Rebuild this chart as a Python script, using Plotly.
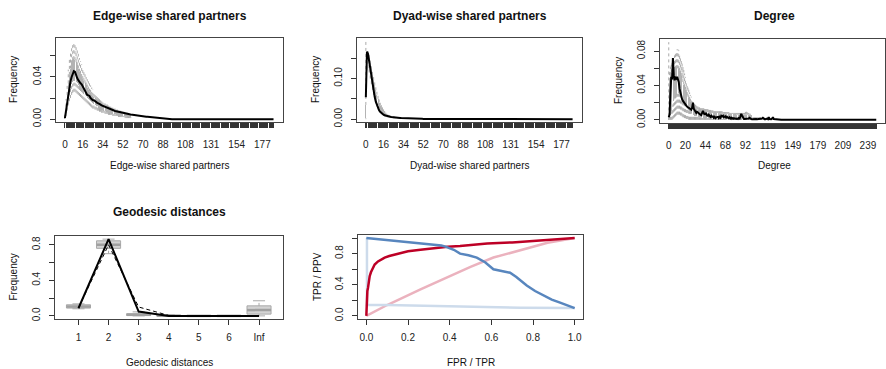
import plotly.graph_objects as go

W, H = 886, 369
FONT = "Liberation Sans, Arial, sans-serif"

# ---------------- data ----------------
# Edge-wise shared partners (categories 0..187)
esp_cats = list(range(188))
esp_labels = [0, 16, 34, 52, 70, 88, 108, 131, 154, 177]
esp_obs_head = [
    0.001, 0.008, 0.017, 0.026, 0.031, 0.036, 0.040, 0.044, 0.0455, 0.045,
    0.041, 0.039, 0.037, 0.035, 0.034, 0.033, 0.031, 0.028, 0.026, 0.024,
    0.023, 0.0225, 0.022, 0.020, 0.019, 0.018, 0.018, 0.017, 0.016, 0.0155,
    0.015, 0.014, 0.0138, 0.013, 0.0125, 0.012, 0.0115, 0.011, 0.0105, 0.010,
    0.0096, 0.0092, 0.0088, 0.0085, 0.0082, 0.0078, 0.0075, 0.0072, 0.0069, 0.0066,
    0.0063, 0.006, 0.0058, 0.0056, 0.0054, 0.0052, 0.005, 0.0048, 0.0046, 0.0044,
    0.0042, 0.004, 0.0038, 0.0036, 0.0035, 0.0033, 0.0032, 0.003, 0.0029, 0.0028,
    0.0026, 0.0025, 0.0024, 0.0023, 0.0022, 0.0021, 0.002, 0.0019, 0.0018, 0.0017,
    0.0016, 0.0015, 0.0014, 0.0013, 0.0012, 0.0011, 0.001, 0.0009, 0.0008, 0.0007,
]
esp_lo_head = [
    0.000, 0.003, 0.008, 0.013, 0.017, 0.020, 0.023, 0.025, 0.026, 0.026,
    0.025, 0.024, 0.023, 0.022, 0.021, 0.020, 0.019, 0.018, 0.017, 0.016,
    0.015, 0.014, 0.013, 0.012, 0.011, 0.010, 0.010, 0.009, 0.009, 0.008,
    0.008, 0.007, 0.007, 0.006, 0.006, 0.006, 0.005, 0.005, 0.005, 0.004,
    0.004, 0.004, 0.004, 0.003, 0.003, 0.003, 0.003, 0.003, 0.002, 0.002,
    0.002, 0.002, 0.002, 0.002, 0.001, 0.001, 0.001, 0.001, 0.001, 0.001,
]
esp_q1_head = [
    0.000, 0.006, 0.013, 0.020, 0.026, 0.030, 0.033, 0.035, 0.036, 0.036,
    0.035, 0.034, 0.032, 0.030, 0.029, 0.027, 0.026, 0.024, 0.023, 0.022,
    0.020, 0.019, 0.018, 0.017, 0.016, 0.015, 0.014, 0.013, 0.012, 0.012,
    0.011, 0.010, 0.010, 0.009, 0.009, 0.008, 0.008, 0.007, 0.007, 0.006,
    0.006, 0.006, 0.005, 0.005, 0.005, 0.005, 0.004, 0.004, 0.004, 0.004,
    0.003, 0.003, 0.003, 0.003, 0.003, 0.003, 0.002, 0.002, 0.002, 0.002,
]
esp_q3_head = [
    0.002, 0.012, 0.023, 0.034, 0.042, 0.048, 0.053, 0.056, 0.057, 0.056,
    0.054, 0.051, 0.048, 0.045, 0.043, 0.040, 0.038, 0.036, 0.034, 0.032,
    0.030, 0.028, 0.026, 0.025, 0.023, 0.022, 0.021, 0.020, 0.019, 0.018,
    0.017, 0.016, 0.015, 0.014, 0.013, 0.012, 0.012, 0.011, 0.011, 0.010,
    0.010, 0.009, 0.009, 0.008, 0.008, 0.008, 0.007, 0.007, 0.007, 0.006,
    0.006, 0.006, 0.005, 0.005, 0.005, 0.005, 0.004, 0.004, 0.004, 0.004,
]
esp_hi_head = [
    0.004, 0.019, 0.034, 0.047, 0.057, 0.065, 0.070, 0.073, 0.074, 0.073,
    0.070, 0.066, 0.062, 0.058, 0.055, 0.052, 0.049, 0.046, 0.043, 0.040,
    0.038, 0.036, 0.034, 0.032, 0.030, 0.028, 0.026, 0.025, 0.024, 0.022,
    0.021, 0.020, 0.019, 0.018, 0.017, 0.016, 0.015, 0.014, 0.014, 0.013,
    0.012, 0.012, 0.011, 0.011, 0.010, 0.010, 0.009, 0.009, 0.008, 0.008,
    0.008, 0.007, 0.007, 0.007, 0.006, 0.006, 0.006, 0.005, 0.005, 0.005,
]

# Dyad-wise shared partners (categories 0..187)
dsp_cats = list(range(188))
dsp_labels = [0, 16, 34, 52, 70, 88, 108, 131, 154, 177]
dsp_obs_head = [
    0.054, 0.166, 0.160, 0.141, 0.121, 0.104, 0.084, 0.068, 0.055, 0.043,
    0.035, 0.028, 0.022, 0.018, 0.015, 0.013, 0.011, 0.0095, 0.0085, 0.0078,
    0.007, 0.0065, 0.006, 0.0055, 0.005, 0.0047, 0.0044, 0.0041, 0.0038, 0.0035,
    0.0033, 0.003, 0.0028, 0.0026, 0.0024, 0.0022, 0.002, 0.0019, 0.0018, 0.0017,
    0.0016, 0.0015, 0.0014, 0.0013, 0.0012, 0.0011, 0.001, 0.001, 0.0009, 0.0009,
    0.0008, 0.0008, 0.0007, 0.0007, 0.0006, 0.0006, 0.0005, 0.0005, 0.0004, 0.0004,
]
dsp_lo_head = [
    0.000, 0.120, 0.125, 0.115, 0.100, 0.086, 0.072, 0.060, 0.049, 0.039,
    0.031, 0.024, 0.019, 0.015, 0.012, 0.010, 0.008, 0.007, 0.006, 0.005,
    0.004, 0.004, 0.003, 0.003, 0.003, 0.002, 0.002, 0.002, 0.002, 0.001,
]
dsp_q1_head = [
    0.002, 0.140, 0.142, 0.132, 0.117, 0.103, 0.089, 0.076, 0.064, 0.053,
    0.043, 0.035, 0.028, 0.022, 0.018, 0.014, 0.012, 0.010, 0.008, 0.007,
    0.006, 0.005, 0.005, 0.004, 0.004, 0.003, 0.003, 0.003, 0.002, 0.002,
]
dsp_q3_head = [
    0.035, 0.160, 0.160, 0.150, 0.137, 0.123, 0.109, 0.096, 0.083, 0.071,
    0.060, 0.050, 0.041, 0.033, 0.027, 0.022, 0.018, 0.015, 0.012, 0.010,
    0.009, 0.008, 0.007, 0.0065, 0.006, 0.0055, 0.005, 0.0045, 0.004, 0.0035,
]
dsp_hi_head = [
    0.192, 0.175, 0.172, 0.163, 0.150, 0.137, 0.123, 0.110, 0.097, 0.085,
    0.073, 0.062, 0.052, 0.043, 0.035, 0.029, 0.024, 0.020, 0.016, 0.013,
    0.011, 0.010, 0.009, 0.008, 0.007, 0.0065, 0.006, 0.0055, 0.005, 0.0045,
]

# Degree (categories 0..249)
deg_cats = list(range(250))
deg_labels = [0, 20, 44, 68, 92, 119, 149, 179, 209, 239]
deg_obs_head = [
    0.003, 0.006, 0.032, 0.050, 0.047, 0.072, 0.052, 0.046, 0.049, 0.048,
    0.050, 0.046, 0.044, 0.036, 0.031, 0.026, 0.024, 0.022, 0.021, 0.020,
    0.018, 0.0165, 0.015, 0.0145, 0.014, 0.013, 0.012, 0.0118, 0.014, 0.020,
    0.013, 0.011, 0.009, 0.008, 0.0095, 0.0086, 0.007, 0.0065, 0.006, 0.0055,
    0.0075, 0.0105, 0.008, 0.006, 0.0075, 0.0075, 0.005, 0.0047, 0.006, 0.004,
    0.0035, 0.0047, 0.003, 0.0047, 0.0025, 0.0035, 0.002, 0.0029, 0.0035, 0.0035,
    0.002, 0.0035, 0.0025, 0.0047, 0.004, 0.0049, 0.003, 0.0035, 0.004, 0.002,
    0.0035, 0.0025, 0.002, 0.003, 0.0015, 0.0025, 0.0012, 0.002, 0.0012, 0.0018,
    0.0012, 0.001, 0.0015, 0.001, 0.002, 0.0015, 0.004, 0.007, 0.005, 0.002,
    0.0012, 0.001, 0.001, 0.0015, 0.001, 0.001, 0.0015, 0.0024, 0.001, 0.001,
    0.0008, 0.001, 0.0008, 0.001, 0.0008, 0.001, 0.0008, 0.0008, 0.001, 0.0008,
    0.0008, 0.001, 0.0015, 0.0024, 0.001, 0.0008, 0.0008, 0.001, 0.0015, 0.0008,
    0.003, 0.001, 0.0008, 0.0008, 0.0015, 0.003, 0.001, 0.0008, 0.0005, 0.0005,
    0.0005,
]
deg_lo_head = [
    0.000, 0.000, 0.000, 0.000, 0.000, 0.001, 0.002, 0.003, 0.004, 0.005,
    0.006, 0.006, 0.006, 0.006, 0.005, 0.005, 0.004, 0.003, 0.003, 0.002,
    0.002, 0.001, 0.001, 0.001,
]
deg_q1_head = [
    0.000, 0.002, 0.006, 0.010, 0.014, 0.018, 0.022, 0.025, 0.027, 0.029,
    0.030, 0.031, 0.031, 0.030, 0.029, 0.027, 0.025, 0.023, 0.021, 0.019,
    0.017, 0.015, 0.013, 0.012, 0.011, 0.010, 0.009, 0.008, 0.007, 0.006,
    0.006, 0.005, 0.005, 0.004, 0.004, 0.004, 0.003, 0.003, 0.003, 0.003,
    0.002, 0.002, 0.002, 0.002, 0.002, 0.002, 0.002, 0.002, 0.002, 0.002,
    0.002, 0.001, 0.001, 0.001, 0.001, 0.001, 0.001, 0.001, 0.001, 0.001,
    0.001, 0.001, 0.001, 0.001, 0.001, 0.001, 0.001, 0.001, 0.001, 0.001,
]
deg_q3_head = [
    0.004, 0.045, 0.052, 0.055, 0.056, 0.056, 0.057, 0.058, 0.059, 0.060,
    0.060, 0.060, 0.059, 0.057, 0.054, 0.051, 0.048, 0.044, 0.041, 0.038,
    0.035, 0.032, 0.029, 0.027, 0.025, 0.023, 0.021, 0.019, 0.018, 0.017,
    0.016, 0.015, 0.014, 0.013, 0.012, 0.012, 0.011, 0.011, 0.010, 0.010,
    0.010, 0.010, 0.010, 0.009, 0.009, 0.009, 0.009, 0.009, 0.008, 0.008,
    0.008, 0.008, 0.008, 0.008, 0.008, 0.008, 0.008, 0.008, 0.008, 0.008,
    0.008, 0.007, 0.007, 0.007, 0.007, 0.007, 0.007, 0.007, 0.007, 0.007,
    0.007, 0.007, 0.007, 0.007, 0.007, 0.007, 0.007, 0.007, 0.007, 0.007,
    0.007, 0.006, 0.006, 0.006, 0.006, 0.006, 0.006, 0.006, 0.006, 0.006,
    0.006, 0.006, 0.006, 0.006, 0.006, 0.006, 0.006, 0.006, 0.006, 0.006,
    0.006, 0.002, 0.002, 0.002, 0.002, 0.002, 0.002, 0.002, 0.002, 0.002,
    0.002, 0.001, 0.001, 0.001, 0.001, 0.001, 0.001, 0.001, 0.001, 0.001,
    0.001,
]
deg_hi_head = [
    0.0904, 0.058, 0.062, 0.064, 0.066, 0.068, 0.071, 0.075, 0.078, 0.080,
    0.082, 0.082, 0.081, 0.078, 0.075, 0.071, 0.067, 0.062, 0.058, 0.054,
    0.050, 0.046, 0.042, 0.038, 0.035, 0.032, 0.029, 0.027, 0.025, 0.023,
    0.022, 0.021, 0.020, 0.019, 0.018, 0.017, 0.016, 0.016, 0.015, 0.015,
    0.015, 0.014, 0.014, 0.015, 0.014, 0.014, 0.013, 0.013, 0.012, 0.012,
    0.012, 0.011, 0.011, 0.011, 0.010, 0.010, 0.010, 0.010, 0.010, 0.010,
    0.010, 0.010, 0.010, 0.010, 0.010, 0.009, 0.009, 0.009, 0.009, 0.009,
    0.009, 0.009, 0.009, 0.008, 0.008, 0.008, 0.008, 0.008, 0.008, 0.008,
    0.008, 0.008, 0.008, 0.008, 0.008, 0.008, 0.008, 0.008, 0.008, 0.008,
    0.008, 0.008, 0.009, 0.010, 0.009, 0.008, 0.008, 0.007, 0.007, 0.006,
    0.006, 0.003, 0.003, 0.003, 0.003, 0.003, 0.003, 0.003, 0.003, 0.003,
    0.003, 0.002, 0.002, 0.002, 0.002, 0.002, 0.002, 0.002, 0.002, 0.002,
    0.002,
]

# Geodesic distances
geo_labels = ["1", "2", "3", "4", "5", "6", "Inf"]
geo_pos = [1, 2, 3, 4, 5, 6, 7]
geo_obs = [0.086, 0.864, 0.049, 0.0, 0.0, 0.0, 0.0]
geo_sim_line = [0.090, 0.800, 0.100, 0.005, 0.0, 0.0, 0.0]
geo_lo = [0.080, 0.700, 0.000, 0.000, 0.000, 0.000, 0.000]
geo_q1 = [0.088, 0.760, 0.004, 0.000, 0.000, 0.000, 0.020]
geo_med = [0.105, 0.800, 0.012, 0.002, 0.000, 0.000, 0.065]
geo_q3 = [0.125, 0.845, 0.025, 0.006, 0.001, 0.000, 0.113]
geo_hi = [0.135, 0.864, 0.045, 0.012, 0.003, 0.001, 0.170]

# ROC / PR curves
roc_fpr = [0, 0.001, 0.003, 0.005, 0.008, 0.012, 0.016, 0.022, 0.032, 0.04, 0.056,
           0.07, 0.088, 0.11, 0.15, 0.2, 0.26, 0.3, 0.39, 0.45, 0.58, 0.7, 0.79, 0.9, 1.0]
roc_tpr = [0, 0.1, 0.25, 0.32, 0.36, 0.44, 0.51, 0.56, 0.62, 0.66, 0.70,
           0.72, 0.75, 0.77, 0.80, 0.83, 0.85, 0.865, 0.89, 0.90, 0.93, 0.945, 0.96, 0.98, 1.0]
roc_rand_fpr = [0, 0.04, 0.10, 0.26, 0.40, 0.50, 0.61, 0.74, 0.87, 1.0]
roc_rand_tpr = [0, 0.06, 0.14, 0.34, 0.51, 0.63, 0.75, 0.85, 0.94, 1.0]
pr_tpr = [0, 0.10, 0.26, 0.36, 0.38, 0.42, 0.45, 0.49, 0.53, 0.57, 0.61, 0.65, 0.69,
          0.72, 0.77, 0.81, 0.85, 0.89, 0.93, 1.0]
pr_ppv = [1.0, 0.975, 0.93, 0.905, 0.89, 0.85, 0.80, 0.78, 0.75, 0.69, 0.60, 0.575, 0.555,
          0.50, 0.39, 0.32, 0.26, 0.21, 0.17, 0.10]
pr_rand_tpr = [0.003, 0.003, 0.10, 0.40, 0.74, 1.0]
pr_rand_ppv = [1.0, 0.14, 0.14, 0.12, 0.105, 0.10]


def pad(head, n):
    return head + [0.0] * (n - len(head))


# ---------------- figure ----------------
fig = go.Figure()

BOX_FILL = "#b3b3b3"
WHISK = "#aaaaaa"


def dense_panel(ax, cats, obs, lo, q1, q3, hi):
    n = len(cats)
    obs, lo, q1, q3, hi = [pad(a, n) for a in (obs, lo, q1, q3, hi)]
    xs, ys = [], []
    for c, a, b, d, e in zip(cats, lo, q1, q3, hi):
        if e > d:
            xs += [c, c, None]
            ys += [d, e, None]
        if b > a:
            xs += [c, c, None]
            ys += [a, b, None]
    fig.add_trace(go.Scatter(x=xs, y=ys, mode="lines", xaxis="x" + ax, yaxis="y" + ax,
                             line=dict(color=WHISK, width=1, dash="3px,3px"),
                             hoverinfo="skip", showlegend=False))
    fig.add_trace(go.Bar(x=cats, y=[d - b for b, d in zip(q1, q3)], base=q1, width=0.9,
                         marker=dict(color=BOX_FILL, line=dict(width=0)),
                         xaxis="x" + ax, yaxis="y" + ax, showlegend=False))
    fig.add_trace(go.Scatter(x=cats, y=obs, mode="lines", xaxis="x" + ax, yaxis="y" + ax,
                             line=dict(color="black", width=2), showlegend=False))


dense_panel("", esp_cats, esp_obs_head, esp_lo_head, esp_q1_head, esp_q3_head, esp_hi_head)
dense_panel("2", dsp_cats, dsp_obs_head, dsp_lo_head, dsp_q1_head, dsp_q3_head, dsp_hi_head)
dense_panel("3", deg_cats, deg_obs_head, deg_lo_head, deg_q1_head, deg_q3_head, deg_hi_head)

# geodesic boxplots
wx, wy, cx, cy, mx, my = [], [], [], [], [], []
for p, a, b, m, d, e in zip(geo_pos, geo_lo, geo_q1, geo_med, geo_q3, geo_hi):
    wx += [p, p, None, p, p, None]
    wy += [a, b, None, d, e, None]
    cx += [p - 0.2, p + 0.2, None, p - 0.2, p + 0.2, None]
    cy += [a, a, None, e, e, None]
    mx += [p - 0.4, p + 0.4, None]
    my += [m, m, None]
fig.add_trace(go.Scatter(x=wx, y=wy, mode="lines", xaxis="x4", yaxis="y4",
                         line=dict(color="#a9a9a9", width=1, dash="3px,3px"),
                         hoverinfo="skip", showlegend=False))
fig.add_trace(go.Scatter(x=cx, y=cy, mode="lines", xaxis="x4", yaxis="y4",
                         line=dict(color="#a9a9a9", width=1), hoverinfo="skip", showlegend=False))
fig.add_trace(go.Bar(x=geo_pos, y=[d - b for b, d in zip(geo_q1, geo_q3)], base=geo_q1, width=0.8,
                     marker=dict(color="#d3d3d3", line=dict(color="#a9a9a9", width=1)),
                     xaxis="x4", yaxis="y4", showlegend=False))
fig.add_trace(go.Scatter(x=mx, y=my, mode="lines", xaxis="x4", yaxis="y4",
                         line=dict(color="#a0a0a0", width=2.5), hoverinfo="skip", showlegend=False))
fig.add_trace(go.Scatter(x=geo_pos, y=geo_sim_line, mode="lines", xaxis="x4", yaxis="y4",
                         line=dict(color="black", width=1, dash="4px,3px"), showlegend=False))
fig.add_trace(go.Scatter(x=geo_pos, y=geo_obs, mode="lines", xaxis="x4", yaxis="y4",
                         line=dict(color="black", width=2), showlegend=False))

# ROC / PR
fig.add_trace(go.Scatter(x=roc_rand_fpr, y=roc_rand_tpr, mode="lines", xaxis="x5", yaxis="y5",
                         line=dict(color="#ebb2be", width=2.5), showlegend=False))
fig.add_trace(go.Scatter(x=pr_rand_tpr, y=pr_rand_ppv, mode="lines", xaxis="x5", yaxis="y5",
                         line=dict(color="#cddbeb", width=2.5), showlegend=False))
fig.add_trace(go.Scatter(x=roc_fpr, y=roc_tpr, mode="lines", xaxis="x5", yaxis="y5",
                         line=dict(color="#bd0026", width=2.5), showlegend=False))
fig.add_trace(go.Scatter(x=pr_tpr, y=pr_ppv, mode="lines", xaxis="x5", yaxis="y5",
                         line=dict(color="#5886be", width=2.5), showlegend=False))

LINE = "#444444"
TICKF = dict(family=FONT, size=10, color="#222")


def xax(dom, rng, vals, text, anchor, standoff=8):
    return dict(domain=[dom[0] / W, dom[1] / W], range=rng, anchor=anchor,
                tickmode="array", tickvals=vals, ticktext=text,
                ticks="outside", ticklen=5, tickwidth=1, tickcolor="#333",
                showline=True, mirror=True, linecolor=LINE, linewidth=1,
                showgrid=False, zeroline=False, tickfont=TICKF, tickangle=0,
                ticklabelstandoff=standoff, automargin=False, fixedrange=True)


def yax(dom, rng, vals, text, anchor):
    return dict(domain=[1 - dom[1] / H, 1 - dom[0] / H], range=rng, anchor=anchor,
                tickmode="array", tickvals=vals, ticktext=text,
                ticks="outside", ticklen=5, tickwidth=1, tickcolor="#333",
                showline=True, mirror=True, linecolor=LINE, linewidth=1,
                showgrid=False, zeroline=False, tickfont=TICKF, tickangle=-90,
                ticklabelstandoff=5, automargin=False, fixedrange=True)


def dense_text(cats, labels):
    return [str(c) if c in labels else "" for c in cats]


fig.update_layout(
    width=W, height=H, margin=dict(l=0, r=0, t=0, b=0),
    paper_bgcolor="white", plot_bgcolor="white", barmode="overlay", bargap=0,
    font=dict(family=FONT, color="#222"), hovermode=False,
    xaxis=xax((56, 283), [-8, 195.5], esp_cats, dense_text(esp_cats, esp_labels), "y"),
    yaxis=yax((38, 122.3), [-0.003, 0.077], [0, 0.02, 0.04, 0.06], ["0.00", "", "0.04", ""], "x"),
    xaxis2=xax((357, 582), [-8, 195.5], dsp_cats, dense_text(dsp_cats, dsp_labels), "y2"),
    yaxis2=yax((38, 122.3), [-0.0077, 0.1997], [0, 0.05, 0.10, 0.15], ["0.00", "", "0.10", ""], "x2"),
    xaxis3=xax((660, 885), [-10.5, 259.5], deg_cats, dense_text(deg_cats, deg_labels), "y3"),
    yaxis3=yax((39, 123), [-0.0037, 0.0941], [0, 0.02, 0.04, 0.06, 0.08],
               ["0.00", "", "0.04", "", "0.08"], "x3"),
    xaxis4=xax((55, 282.5), [0.22, 7.78], geo_pos, geo_labels, "y4", standoff=4),
    yaxis4=yax((236, 319), [-0.035, 0.899], [0, 0.2, 0.4, 0.6, 0.8], ["0.0", "", "0.4", "", "0.8"], "x4"),
    xaxis5=xax((358, 583), [-0.04, 1.04], [0, 0.2, 0.4, 0.6, 0.8, 1.0],
               ["0.0", "0.2", "0.4", "0.6", "0.8", "1.0"], "y5", standoff=4),
    yaxis5=yax((235, 319), [-0.04, 1.04], [0, 0.2, 0.4, 0.6, 0.8, 1.0],
               ["0.0", "", "0.4", "", "0.8", ""], "x5"),
)


def ann(text, x, y, size=10, bold=False, angle=0):
    fig.add_annotation(text=("<b>%s</b>" % text) if bold else text, x=x / W, y=1 - y / H,
                       xref="paper", yref="paper", showarrow=False, textangle=angle,
                       xanchor="center", yanchor="middle",
                       font=dict(family=FONT, size=size, color="#111"))


# panel titles
ann("Edge-wise shared partners", 169.5, 15.7, 12, True)
ann("Dyad-wise shared partners", 469.5, 15.7, 12, True)
ann("Degree", 774, 15.7, 12, True)
ann("Geodesic distances", 169, 211.7, 12, True)
# x titles
ann("Edge-wise shared partners", 169.5, 165.7)
ann("Dyad-wise shared partners", 469.5, 165.7)
ann("Degree", 774, 165.7)
ann("Geodesic distances", 169, 362.7)
ann("FPR / TPR", 470.5, 362.7)
# y titles
ann("Frequency", 13, 80, angle=-90)
ann("Frequency", 315, 80, angle=-90)
ann("Frequency", 619, 81, angle=-90)
ann("Frequency", 13, 277.5, angle=-90)
ann("TPR / PPV", 317, 277, angle=-90)

fig.write_html("out.html", config={"displayModeBar": False, "staticPlot": True},
               post_script="document.body.style.margin='0';document.body.style.overflow='hidden';")
